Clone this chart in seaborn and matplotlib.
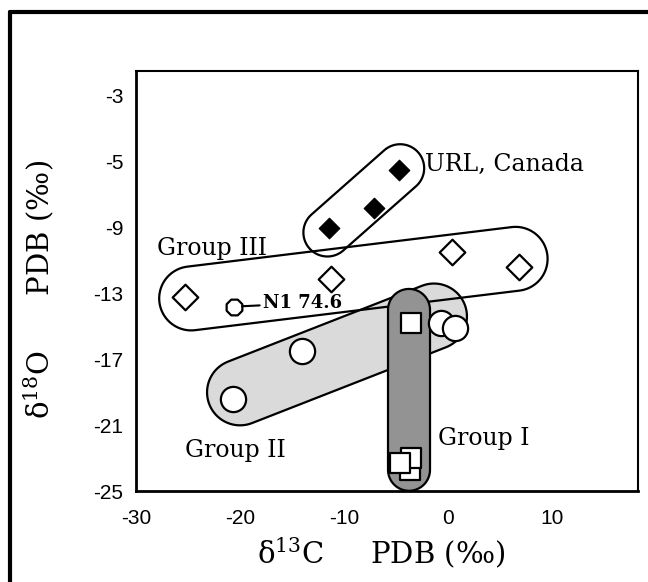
import numpy as np
import matplotlib
matplotlib.use("Agg")
import matplotlib.pyplot as plt
import seaborn as sns
from matplotlib.patches import Polygon
from matplotlib.lines import Line2D

# values (d13C, d18O per mil PDB)
url_x = [-11.4, -7.1, -4.7]
url_y = [-9.0, -7.8, -5.5]
g3_x = [-25.3, -11.3, 0.4, 6.8]
g3_y = [-13.2, -12.1, -10.5, -11.4]
n1_x = [-20.6]
n1_y = [-13.8]
g2_x = [-20.7, -14.0, -0.7, 0.7]
g2_y = [-19.4, -16.5, -14.8, -15.1]
g1_x = [-3.7, -3.6, -4.6, -3.6]
g1_y = [-23.7, -23.0, -23.3, -14.8]

# group outlines: two end centres each (data units)
url_ends = [(-11.6, -9.3), (-4.6, -5.4)]
g3_ends = [(-24.7, -13.3), (6.5, -10.9)]
g2_ends = [(-20.0, -19.0), (-1.35, -14.4)]
g1_ends = [(-3.75, -14.0), (-3.75, -23.7)]

xticks = [-30, -20, -10, 0, 10]
yticks = [-25, -23, -21, -19, -17, -15, -13, -11, -9, -7, -5, -3, -1]
ytick_labels = ["-25", "", "-21", "", "-17", "", "-13", "", "-9", "", "-5", "", "-3"]

sns.set_theme(style="white")
plt.rcParams['font.family'] = ['DejaVu Serif']
plt.rcParams['mathtext.fontset'] = 'dejavuserif'
plt.rcParams['text.color'] = 'black'
plt.rcParams['axes.labelcolor'] = 'black'

fig = plt.figure(figsize=(6.48, 5.82), dpi=100)
ax = fig.add_axes([0.21, 0.156, 0.775, 0.722])
ax.set_xlim(-30, 18.3)
ax.set_ylim(-25, 0.5)


def capsule(ends, r_px, **kw):
    p0, p1 = ax.transData.transform(ends)
    d = p1 - p0
    a = np.arctan2(d[1], d[0])
    t1 = np.linspace(a - np.pi / 2, a + np.pi / 2, 40)
    t0 = np.linspace(a + np.pi / 2, a + 3 * np.pi / 2, 40)
    pts = np.vstack([p1 + r_px * np.c_[np.cos(t1), np.sin(t1)],
                     p0 + r_px * np.c_[np.cos(t0), np.sin(t0)]])
    pts = ax.transData.inverted().transform(pts)
    ax.add_patch(Polygon(pts, closed=True, **kw))


capsule(g2_ends, 33, facecolor="#dadada", edgecolor="black", lw=1.6, zorder=1)
capsule(g3_ends, 32, facecolor="none", edgecolor="black", lw=1.6, zorder=2)
capsule(url_ends, 24, facecolor="none", edgecolor="black", lw=1.6, zorder=2)
capsule(g1_ends, 21, facecolor="#939393", edgecolor="black", lw=1.6, zorder=3)

sns.scatterplot(x=g2_x, y=g2_y, marker="o", s=330, facecolor="white",
                edgecolor="black", linewidth=1.6, ax=ax, zorder=4)
sns.scatterplot(x=g1_x, y=g1_y, marker="s", s=220, facecolor="white",
                edgecolor="black", linewidth=1.6, ax=ax, zorder=4)
sns.scatterplot(x=g3_x, y=g3_y, marker="D", s=170, facecolor="white",
                edgecolor="black", linewidth=1.6, ax=ax, zorder=4)
sns.scatterplot(x=url_x, y=url_y, marker="D", s=110, color="black",
                edgecolor="black", ax=ax, zorder=4)
sns.scatterplot(x=n1_x, y=n1_y, marker="8", s=150, facecolor="white",
                edgecolor="black", linewidth=1.6, ax=ax, zorder=4)

ax.annotate("N1 74.6", xy=(n1_x[0], n1_y[0]), xytext=(-17.8, -13.6),
            fontsize=13, fontweight="bold", va="center", zorder=5,
            arrowprops=dict(arrowstyle="-", color="black", lw=1.5,
                            shrinkA=0, shrinkB=6))

tkw = dict(fontsize=17, zorder=5)
ax.text(-2.2, -5.2, "URL, Canada", va="center", **tkw)
ax.text(-28.0, -10.3, "Group III", va="center", **tkw)
ax.text(-25.3, -22.5, "Group II", va="center", **tkw)
ax.text(-1.0, -21.8, "Group I", va="center", **tkw)

ax.set_xticks(xticks)
ax.set_xticklabels([str(v) for v in xticks])
ax.set_yticks(yticks)
ax.set_yticklabels(ytick_labels)
for lab in ax.get_xticklabels() + ax.get_yticklabels():
    lab.set_family(['Liberation Sans Narrow', 'Liberation Sans'])
    lab.set_fontsize(15)
ax.tick_params(axis="both", direction="inout", length=10, width=1.6,
               color="black", labelcolor="black")
ax.tick_params(axis="x", pad=8)
ax.tick_params(axis="y", pad=4)

for side in ["left", "bottom"]:
    ax.spines[side].set_linewidth(2.0)
for side in ["top", "right"]:
    ax.spines[side].set_linewidth(1.5)
for sp in ax.spines.values():
    sp.set_color("black")

ax.set_xlabel("δ$^{13}$C     PDB (‰)", fontsize=21)
ax.set_ylabel("δ$^{18}$O      PDB (‰)", fontsize=21)
ax.xaxis.set_label_coords(0.488, -0.104)
ax.yaxis.set_label_coords(-0.16, 0.48)

# outer frame of the original figure
fig.add_artist(Line2D([0.016, 0.016], [0.0, 0.98], color="black", lw=3))
fig.add_artist(Line2D([0.016, 1.0], [0.98, 0.98], color="black", lw=3))

fig.savefig("out.png", dpi=100)
